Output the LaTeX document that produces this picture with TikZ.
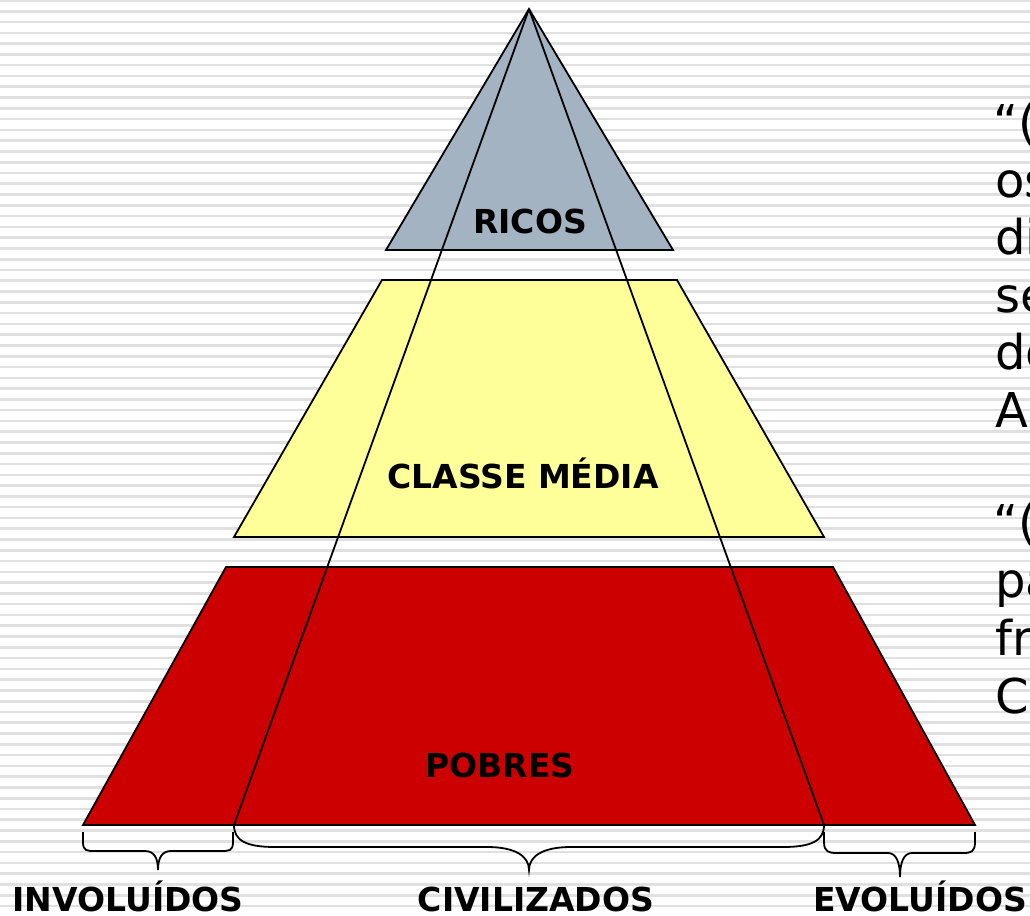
\documentclass[tikz,border=0pt]{standalone}
\usepackage{fontspec}
\setmainfont{DejaVu Sans}
\definecolor{ricoscol}{HTML}{A3B3C2}
\definecolor{mediacol}{HTML}{FFFF99}
\definecolor{pobrescol}{HTML}{CC0000}
\definecolor{stripecol}{HTML}{E0E0E0}
\tikzset{
  layer/.style={draw=black, line width=1.8pt, line join=miter},
  lbl/.style={font=\fontsize{33}{39}\selectfont\bfseries, anchor=base, inner sep=0pt},
  quote/.style={font=\fontsize{48}{58}\selectfont, anchor=base west, inner sep=0pt},
  bracestyle/.style={draw=black, line width=1.8pt},
  ray/.style={draw=black, line width=1.8pt}
}
\begin{document}
\begin{tikzpicture}[x=1pt,y=-1pt]
\useasboundingbox (0,0) rectangle (1030,915);
\begin{scope}
\clip (0,0) rectangle (1030,915);
\fill[white] (0,0) rectangle (1030,915);
\foreach \i in {0,...,85} {
  \draw[stripecol, line width=2.6pt] (0,{\i*10.78+0.5}) -- (1030,{\i*10.78+0.5});
}
% layers
\filldraw[layer, fill=ricoscol] (529,9) -- (673,250) -- (386,250) -- cycle;
\filldraw[layer, fill=mediacol] (382,280) -- (677,280) -- (824,537) -- (234,537) -- cycle;
\filldraw[layer, fill=pobrescol] (226,567) -- (833,567) -- (975,825) -- (83,825) -- cycle;
% rays
\coordinate (apex) at (529,9);
\coordinate (bl) at (234,825);
\coordinate (br) at (824,825);
\draw[ray] (apex) -- (bl);
\draw[ray] (apex) -- (br);
% labels
\node[lbl] (ricos) at (530,233) {RICOS};
\node[lbl] (media) at (523,488) {CLASSE MÉDIA};
\node[lbl] (pobres) at (500,777) {POBRES};
% braces
\draw[bracestyle] (83,832) -- (83,842) .. controls (83,851) and (87,851) .. (95,851) -- (145,851)
  .. controls (154,851) and (158,858) .. (158,870)
  .. controls (158,858) and (162,851) .. (171,851) -- (221,851)
  .. controls (229,851) and (233,851) .. (233,842) -- (233,832);
\draw[bracestyle] (bl) .. controls (234,840) and (245,847) .. (275,847) -- (487,847)
  .. controls (515,847) and (529,856) .. (529,870)
  .. controls (529,856) and (543,847) .. (571,847) -- (783,847)
  .. controls (813,847) and (824,840) .. (br);
\draw[bracestyle] (824,832) -- (824,842) .. controls (824,852) and (829,853) .. (837,853) -- (888,853)
  .. controls (896,853) and (900,862) .. (900,877)
  .. controls (900,862) and (904,853) .. (912,853) -- (963,853)
  .. controls (971,853) and (975,852) .. (975,842) -- (975,832);
\node[lbl] (invol) at (128,911) {INVOLUÍDOS};
\node[lbl] (civil) at (536,911) {CIVILIZADOS};
\node[lbl] (evol) at (920,911) {EVOLUÍDOS};
% side text (clipped)
\node[quote] (q1) at (993,139.5) {“(};
\node[quote] (q2) at (995,197) {os};
\node[quote] (q3) at (995,254.5) {di};
\node[quote] (q4) at (995,312) {se};
\node[quote] (q5) at (995,369.5) {do};
\node[quote] (q6) at (995,427) {A};
\node[quote] (p1) at (993,539) {“(};
\node[quote] (p2) at (995,597) {pa};
\node[quote] (p3) at (995,655) {fr};
\node[quote] (p4) at (995,713) {C};
\end{scope}
\end{tikzpicture}
\end{document}
